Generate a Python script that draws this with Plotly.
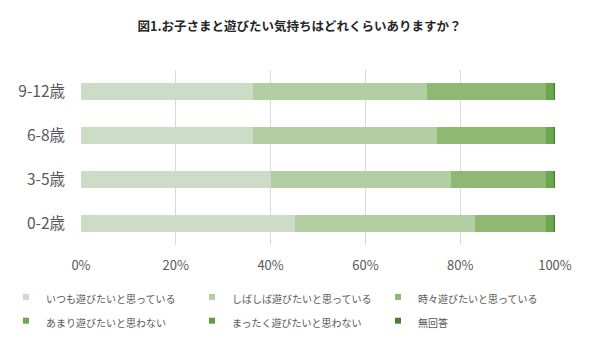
import plotly.graph_objects as go

categories = ["0-2歳", "3-5歳", "6-8歳", "9-12歳"]
series_names = ["いつも遊びたいと思っている", "しばしば遊びたいと思っている", "時々遊びたいと思っている",
                "あまり遊びたいと思わない", "まったく遊びたいと思わない", "無回答"]
always = [45.1, 40.1, 36.3, 36.3]
often = [38.0, 38.0, 38.8, 36.8]
sometimes = [15.0, 20.0, 23.0, 25.0]
rarely = [1.5, 1.6, 1.6, 1.6]
never = [0.3, 0.2, 0.2, 0.2]
no_answer = [0.1, 0.1, 0.1, 0.1]
series_values = [always, often, sometimes, rarely, never, no_answer]
colors = ["#cddcc6", "#b3cea3", "#8fb872", "#6aa84f", "#5f9c42", "#4d7f33"]
x_ticks = [0, 20, 40, 60, 80, 100]
x_tick_labels = ["0%", "20%", "40%", "60%", "80%", "100%"]

fig = go.Figure()
for name, vals, c in zip(series_names, series_values, colors):
    fig.add_trace(go.Bar(y=categories, x=vals, name=name, orientation="h",
                         marker=dict(color=c, line=dict(width=0)), showlegend=False,
                         legendgroup=name))
# legend entries with small square swatches
for name, c in zip(series_names, colors):
    fig.add_trace(go.Scatter(x=[None], y=[None], mode="markers", legendgroup=name,
                             name=f'<span style="font-size:10px">{name}</span>',
                             marker=dict(symbol="square", size=6, color=c),
                             hoverinfo="skip"))

fig.update_layout(
    barmode="stack",
    bargap=0.61,
    width=599, height=353,
    margin=dict(l=81, r=44, t=70, b=108, autoexpand=False),
    paper_bgcolor="white", plot_bgcolor="white",
    font=dict(family="Noto Sans CJK JP", color="#595959"),
    title=dict(text="<b>図1.お子さまと遊びたい気持ちはどれくらいありますか？</b>",
               x=0.5, xanchor="center", y=1 - 27/353, yanchor="middle",
               font=dict(size=12.5, color="#262626")),
    xaxis=dict(range=[0, 100], tickvals=x_ticks, ticktext=x_tick_labels,
               showgrid=True, gridcolor="#d9d9d9", gridwidth=1, zeroline=False,
               showline=False, ticks="", ticklabelstandoff=11,
               tickfont=dict(size=13, color="#595959")),
    yaxis=dict(showgrid=False, zeroline=False, showline=False, ticks="",
               ticklabelstandoff=15, tickfont=dict(size=15.5, color="#595959")),
    legend=dict(orientation="h", x=(6 - 81) / 474, xanchor="left",
                y=-(280 - 245) / 175, yanchor="top",
                entrywidth=141, entrywidthmode="pixels", itemsizing="trace",
                font=dict(size=16, color="#595959"), traceorder="normal"),
)
fig.write_html("out.html")
